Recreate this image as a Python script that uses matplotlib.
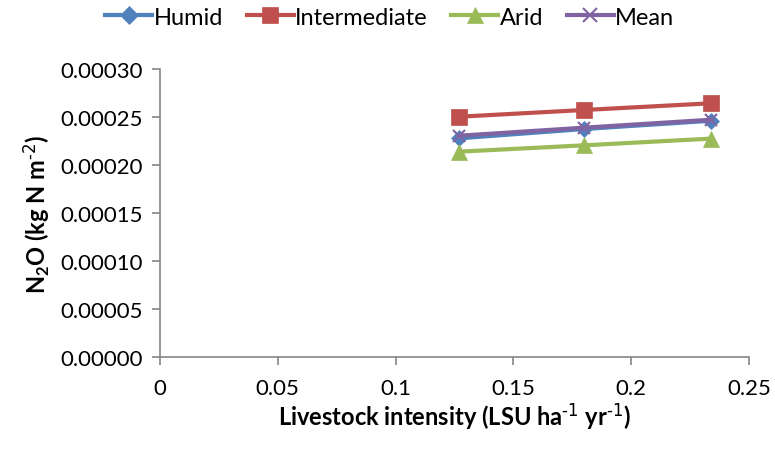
import numpy as np
import matplotlib
matplotlib.use("Agg")
import matplotlib.pyplot as plt

plt.rcParams['font.family'] = ['Lato', 'DejaVu Sans']
plt.rcParams['mathtext.default'] = 'regular'

intensity = [0.127, 0.180, 0.234]
humid = [0.0002278, 0.0002375, 0.0002461]
intermediate = [0.0002503, 0.0002573, 0.0002643]
arid = [0.0002139, 0.0002205, 0.0002275]
mean = [0.0002305, 0.0002389, 0.0002472]

series = [
    ("Humid", humid, "#4F81BD", "D", 8),
    ("Intermediate", intermediate, "#C0504D", "s", 11),
    ("Arid", arid, "#9BBB59", "^", 11),
    ("Mean", mean, "#8064A2", "x", 9),
]

fig = plt.figure(figsize=(7.75, 4.52), dpi=100)
ax = fig.add_axes([160 / 775, 1 - 358 / 452, 589 / 775, 288 / 452])

for name, vals, col, mk, ms in series:
    ax.plot(intensity, vals, color=col, lw=3, marker=mk, markersize=ms,
            markeredgewidth=1.5 if mk == "x" else 0.5, markeredgecolor=col,
            label=name)

ax.set_xlim(0, 0.25)
ax.set_ylim(0, 0.0003)
ax.set_xticks([0, 0.05, 0.1, 0.15, 0.2, 0.25])
ax.set_xticklabels(["0", "0.05", "0.1", "0.15", "0.2", "0.25"])
ax.set_yticks(np.arange(0, 0.00031, 0.00005))
ax.set_yticklabels(["%.5f" % v for v in np.arange(0, 0.00031, 0.00005)])

for s in ["top", "right"]:
    ax.spines[s].set_visible(False)
for s in ["left", "bottom"]:
    ax.spines[s].set_color("#868686")
    ax.spines[s].set_linewidth(1.2)
ax.tick_params(axis="both", colors="#868686", labelcolor="black",
               labelsize=16, length=6, width=1.2, direction="out")
ax.tick_params(axis="x", pad=9)
ax.tick_params(axis="y", pad=6)

ax.set_xlabel("Livestock intensity (LSU ha$^{\\text{-1}}$ yr$^{\\text{-1}}$)",
              fontsize=17, fontweight="bold", labelpad=2)
ax.set_ylabel("N$_{2}$O (kg N m$^{\\text{-2}}$)", fontsize=17,
              fontweight="bold", labelpad=6)

ax.legend(loc="center", bbox_to_anchor=(0.39, 1.18), ncol=4,
          frameon=False, fontsize=17, handlelength=2.0, columnspacing=1.0,
          handletextpad=0.05, borderaxespad=0, markerscale=1.1)

fig.savefig("out.png", dpi=100)
